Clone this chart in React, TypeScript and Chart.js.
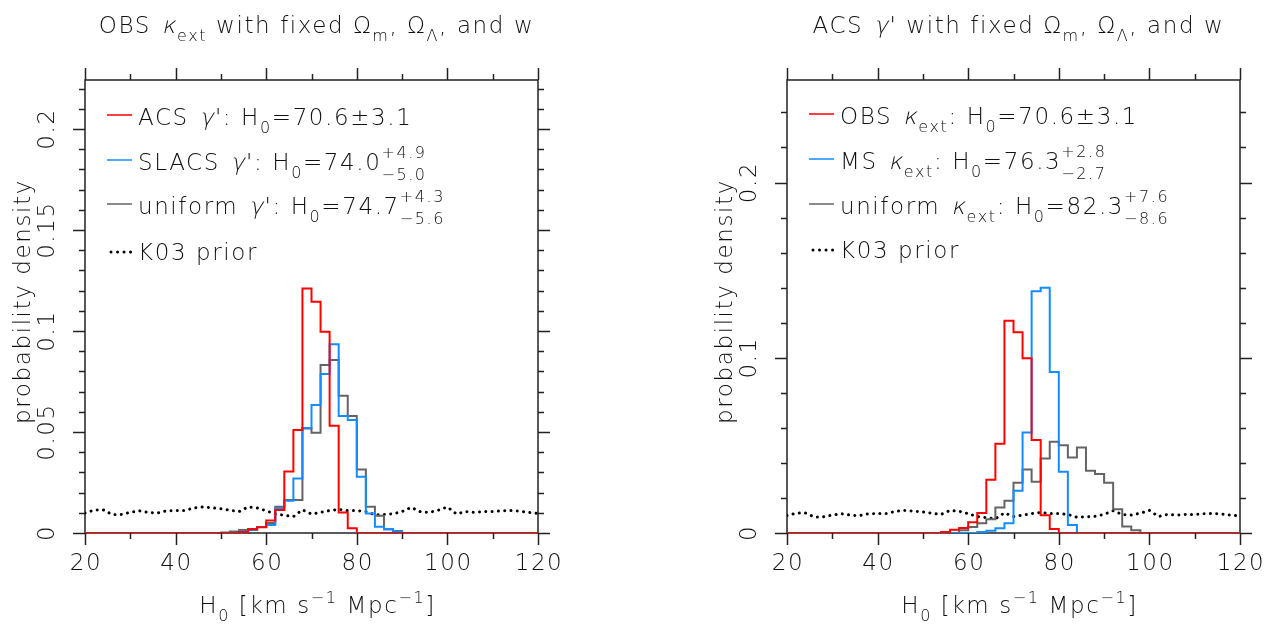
import React, { useEffect, useRef } from "react";
import { Chart, registerables } from "chart.js";
Chart.register(...registerables);

// ---------------- data ----------------
const X_MIN = 20;
const X_MAX = 120;
const BIN_WIDTH = 2;

const xMajorTicks = [20, 40, 60, 80, 100, 120];
const xMinorTicks = [30, 50, 70, 90, 110];
const xTickLabels = ["20", "40", "60", "80", "100", "120"];

const leftYMax = 0.2243;
const leftYMajor = [0, 0.05, 0.1, 0.15, 0.2];
const leftYLabels = ["0", "0.05", "0.1", "0.15", "0.2"];
const leftYMinor = [0.01, 0.02, 0.03, 0.04, 0.06, 0.07, 0.08, 0.09, 0.11, 0.12, 0.13, 0.14, 0.16, 0.17, 0.18, 0.19, 0.21, 0.22];

const rightYMax = 0.2585;
const rightYMajor = [0, 0.1, 0.2];
const rightYLabels = ["0", "0.1", "0.2"];
const rightYMinor = [0.02, 0.04, 0.06, 0.08, 0.12, 0.14, 0.16, 0.18, 0.22, 0.24];

// ACS gamma' + OBS kappa_ext (red, identical in both panels), bins of width 2 starting at 54
const acsObsStart = 54;
const acsObs = [0.0005, 0.0018, 0.0028, 0.0062, 0.0114, 0.0304, 0.0510, 0.1211, 0.1145, 0.0997, 0.0531, 0.0102, 0.0023];

// SLACS gamma' (blue, left)
const slacsStart = 54;
const slacs = [0.0008, 0.0015, 0.0030, 0.0040, 0.0122, 0.0160, 0.0270, 0.0520, 0.0634, 0.0787, 0.0934, 0.0579, 0.0559, 0.0279, 0.0097, 0.0031, 0.0018, 0.0008];

// uniform gamma' (grey, left)
const uniformGammaStart = 50;
const uniformGamma = [0.0003, 0.0008, 0.0015, 0.0020, 0.0030, 0.0050, 0.0130, 0.0163, 0.0163, 0.0518, 0.0497, 0.0832, 0.0856, 0.0680, 0.0579, 0.0315, 0.0130, 0.0086, 0.0018, 0.0010];

// MS kappa_ext (blue, right)
const msKappaStart = 62;
const msKappa = [0.0005, 0.0013, 0.0027, 0.0055, 0.0241, 0.0574, 0.1380, 0.1400, 0.0919, 0.0349, 0.0046];

// uniform kappa_ext (grey, right)
const uniformKappaStart = 58;
const uniformKappa = [0.0015, 0.0034, 0.0055, 0.0078, 0.0146, 0.0184, 0.0287, 0.0363, 0.0292, 0.0425, 0.0520, 0.0501, 0.0431, 0.0488, 0.0355, 0.0336, 0.0287, 0.0135, 0.0037, 0.0016];

// K03 prior (dotted), sampled every 2 from 20 to 120
const priorStep = 2;
const k03Prior = [
  0.0099, 0.0113, 0.0115, 0.0092, 0.0092, 0.0102, 0.0110, 0.0102, 0.0099, 0.0110,
  0.0111, 0.0111, 0.0124, 0.0129, 0.0125, 0.0120, 0.0113, 0.0106, 0.0129, 0.0124,
  0.0110, 0.0094, 0.0088, 0.0081, 0.0115, 0.0094, 0.0102, 0.0111, 0.0117, 0.0111,
  0.0111, 0.0106, 0.0090, 0.0092, 0.0095, 0.0106, 0.0127, 0.0106, 0.0102, 0.0113,
  0.0129, 0.0094, 0.0106, 0.0102, 0.0106, 0.0106, 0.0110, 0.0111, 0.0108, 0.0102,
  0.0097,
];

const RED = "rgb(255,0,0)";
const BLUE = "rgb(20,140,255)";
const GREY = "rgb(100,100,100)";
const INK = "#111";
const FONT = '"DejaVu Sans", "Liberation Sans", sans-serif';
const FS = 23;
const FS_SMALL = 16;
const SPACING = "1.6px";

type Seg = { t?: string; italic?: boolean; sub?: boolean; sup?: boolean; up?: string; down?: string };

// ---------------- helpers ----------------
function histPoints(start: number, vals: number[]) {
  const pts = [{ x: X_MIN, y: 0 }];
  vals.forEach((v, i) => pts.push({ x: start + i * BIN_WIDTH, y: v }));
  pts.push({ x: start + vals.length * BIN_WIDTH, y: 0 });
  pts.push({ x: X_MAX, y: 0 });
  return pts;
}

function priorPoints() {
  return k03Prior.map((v, i) => ({ x: X_MIN + i * priorStep, y: v }));
}

function setFont(ctx: CanvasRenderingContext2D, size: number) {
  ctx.font = `200 ${size}px ${FONT}`;
  (ctx as any).letterSpacing = SPACING;
}

function segWidth(ctx: CanvasRenderingContext2D, s: Seg) {
  if (s.up !== undefined) {
    setFont(ctx, FS_SMALL);
    return Math.max(ctx.measureText(s.up).width, ctx.measureText(s.down || "").width);
  }
  setFont(ctx, s.sub || s.sup ? FS_SMALL : FS);
  return ctx.measureText(s.t || "").width + (s.italic ? 2 : 0);
}

function fillMaybeItalic(ctx: CanvasRenderingContext2D, t: string, x: number, y: number, italic: boolean) {
  if (!italic) {
    ctx.fillText(t, x, y);
    return;
  }
  ctx.save();
  ctx.translate(x + 2, y);
  ctx.transform(1, 0, -0.22, 1, 0, 0);
  ctx.fillText(t, 0, 0);
  ctx.restore();
}

function drawRich(ctx: CanvasRenderingContext2D, segs: Seg[], x: number, y: number, align: "left" | "center") {
  let total = 0;
  segs.forEach((s) => (total += segWidth(ctx, s)));
  let cx = align === "center" ? x - total / 2 : x;
  ctx.textAlign = "left";
  ctx.textBaseline = "alphabetic";
  ctx.fillStyle = INK;
  segs.forEach((s) => {
    const w = segWidth(ctx, s);
    if (s.up !== undefined) {
      setFont(ctx, FS_SMALL);
      ctx.fillText(s.up, cx, y - 12);
      ctx.fillText(s.down || "", cx, y + 10);
    } else if (s.sub) {
      setFont(ctx, FS_SMALL);
      fillMaybeItalic(ctx, s.t || "", cx, y + 8, !!s.italic);
    } else if (s.sup) {
      setFont(ctx, FS_SMALL);
      fillMaybeItalic(ctx, s.t || "", cx, y - 10, !!s.italic);
    } else {
      setFont(ctx, FS);
      fillMaybeItalic(ctx, s.t || "", cx, y, !!s.italic);
    }
    cx += w;
  });
}

type LegendItem = { color: string; dotted?: boolean; label: Seg[] };

type PanelSpec = {
  title: Seg[];
  yMax: number;
  yMajor: number[];
  yLabels: string[];
  yMinor: number[];
  legend: LegendItem[];
  legendRows: number[];
  red: { x: number; y: number }[];
  blue: { x: number; y: number }[];
  grey: { x: number; y: number }[];
  padding: { left: number; right: number; top: number; bottom: number };
};

const xTitle: Seg[] = [
  { t: "H" },
  { t: "0", sub: true },
  { t: " [km s" },
  { t: "−1", sup: true },
  { t: " Mpc" },
  { t: "−1", sup: true },
  { t: "]" },
];

const framePlugin = {
  id: "frame",
  beforeDatasetsDraw(chart: any) {
    const ctx: CanvasRenderingContext2D = chart.ctx;
    const { left, right, top, bottom } = chart.chartArea;
    const xs = chart.scales.x;
    const ys = chart.scales.y;
    const spec: PanelSpec = chart.options.plugins.frame.spec;
    ctx.save();
    ctx.strokeStyle = "#222";
    ctx.lineWidth = 1.5;
    ctx.strokeRect(left, top, right - left, bottom - top);
    ctx.beginPath();
    const MAJ = 12;
    const MIN = 6;
    xMajorTicks.forEach((v) => {
      const p = Math.round(xs.getPixelForValue(v)) + 0.5;
      ctx.moveTo(p, bottom);
      ctx.lineTo(p, bottom + MAJ);
      ctx.moveTo(p, top);
      ctx.lineTo(p, top - MAJ);
    });
    xMinorTicks.forEach((v) => {
      const p = Math.round(xs.getPixelForValue(v)) + 0.5;
      ctx.moveTo(p, bottom);
      ctx.lineTo(p, bottom + MIN);
      ctx.moveTo(p, top);
      ctx.lineTo(p, top - MIN);
    });
    spec.yMajor.forEach((v) => {
      const p = Math.round(ys.getPixelForValue(v)) + 0.5;
      ctx.moveTo(left, p);
      ctx.lineTo(left - MAJ, p);
      ctx.moveTo(right, p);
      ctx.lineTo(right + MAJ, p);
    });
    spec.yMinor.forEach((v) => {
      const p = Math.round(ys.getPixelForValue(v)) + 0.5;
      ctx.moveTo(left, p);
      ctx.lineTo(left - MIN, p);
      ctx.moveTo(right, p);
      ctx.lineTo(right + MIN, p);
    });
    ctx.stroke();
    ctx.restore();
  },
  afterDraw(chart: any) {
    const ctx: CanvasRenderingContext2D = chart.ctx;
    const { left, right, top, bottom } = chart.chartArea;
    const xs = chart.scales.x;
    const ys = chart.scales.y;
    const spec: PanelSpec = chart.options.plugins.frame.spec;
    const cxm = (left + right) / 2;
    ctx.save();
    ctx.fillStyle = INK;
    // x tick labels
    setFont(ctx, FS);
    ctx.textAlign = "center";
    ctx.textBaseline = "middle";
    xMajorTicks.forEach((v, i) => {
      ctx.fillText(xTickLabels[i], xs.getPixelForValue(v) + 1, bottom + 31);
    });
    // y tick labels (rotated)
    spec.yMajor.forEach((v, i) => {
      ctx.save();
      ctx.translate(left - 37, ys.getPixelForValue(v));
      ctx.rotate(-Math.PI / 2);
      setFont(ctx, FS);
      ctx.textAlign = "center";
      ctx.textBaseline = "middle";
      ctx.fillText(spec.yLabels[i], 0, 0);
      ctx.restore();
    });
    // y title
    ctx.save();
    ctx.translate(left - 61, (top + bottom) / 2 - 5);
    ctx.rotate(-Math.PI / 2);
    setFont(ctx, FS);
    ctx.textAlign = "center";
    ctx.textBaseline = "middle";
    ctx.fillText("probability density", 0, 0);
    ctx.restore();
    // x title
    drawRich(ctx, xTitle, cxm + 6, bottom + 80, "center");
    // title
    drawRich(ctx, spec.title, cxm + 5, 33, "center");
    // legend
    spec.legend.forEach((item, i) => {
      const by = top + spec.legendRows[i];
      const ly = by - 10;
      ctx.save();
      ctx.strokeStyle = item.color;
      if (item.dotted) {
        ctx.lineWidth = 3;
        ctx.lineCap = "round";
        ctx.setLineDash([0.01, 6.5]);
        ctx.beginPath();
        ctx.moveTo(left + 26, ly + 2);
        ctx.lineTo(left + 47, ly + 2);
        ctx.stroke();
      } else {
        ctx.lineWidth = 1.5;
        ctx.beginPath();
        ctx.moveTo(left + 22, ly);
        ctx.lineTo(left + 47, ly);
        ctx.stroke();
      }
      ctx.restore();
      drawRich(ctx, item.label, left + 53, by, "left");
    });
    ctx.restore();
  },
};

function makeConfig(spec: PanelSpec): any {
  const hist = (data: any, color: string) => ({
    data,
    borderColor: color,
    borderWidth: 2,
    stepped: "before",
    pointRadius: 0,
    fill: false,
    tension: 0,
  });
  return {
    type: "line",
    data: {
      datasets: [
        hist(spec.red, RED),
        hist(spec.blue, BLUE),
        hist(spec.grey, GREY),
        {
          data: priorPoints(),
          borderColor: "#000",
          borderWidth: 3,
          borderDash: [0.01, 6.3],
          borderCapStyle: "round",
          pointRadius: 0,
          fill: false,
          tension: 0,
        },
      ],
    },
    options: {
      animation: false,
      responsive: false,
      events: [],
      layout: { padding: spec.padding },
      plugins: {
        legend: { display: false },
        tooltip: { enabled: false },
        frame: { spec },
      },
      scales: {
        x: { type: "linear", min: X_MIN, max: X_MAX, display: false },
        y: { type: "linear", min: 0, max: spec.yMax, display: false },
      },
    },
    plugins: [framePlugin],
  };
}

const gammaP: Seg[] = [{ t: "γ", italic: true }, { t: "'" }];
const kappaExt: Seg[] = [{ t: "κ", italic: true }, { t: "ext", sub: true }];

const leftSpec: PanelSpec = {
  title: [{ t: "OBS " }, ...kappaExt, { t: " with fixed Ω" }, { t: "m", sub: true }, { t: ", Ω" }, { t: "Λ", sub: true }, { t: ", and w" }],
  yMax: leftYMax,
  yMajor: leftYMajor,
  yLabels: leftYLabels,
  yMinor: leftYMinor,
  legend: [
    { color: RED, label: [{ t: "ACS " }, ...gammaP, { t: ": H" }, { t: "0", sub: true }, { t: "=70.6±3.1" }] },
    { color: BLUE, label: [{ t: "SLACS " }, ...gammaP, { t: ": H" }, { t: "0", sub: true }, { t: "=74.0" }, { up: "+4.9", down: "−5.0" }] },
    { color: GREY, label: [{ t: "uniform " }, ...gammaP, { t: ": H" }, { t: "0", sub: true }, { t: "=74.7" }, { up: "+4.3", down: "−5.6" }] },
    { color: "#000", dotted: true, label: [{ t: "K03 prior" }] },
  ],
  legendRows: [45, 90, 134, 180],
  red: histPoints(acsObsStart, acsObs),
  blue: histPoints(slacsStart, slacs),
  grey: histPoints(uniformGammaStart, uniformGamma),
  padding: { left: 85, right: 95, top: 80, bottom: 91 },
};

const rightSpec: PanelSpec = {
  title: [{ t: "ACS " }, ...gammaP, { t: " with fixed Ω" }, { t: "m", sub: true }, { t: ", Ω" }, { t: "Λ", sub: true }, { t: ", and w" }],
  yMax: rightYMax,
  yMajor: rightYMajor,
  yLabels: rightYLabels,
  yMinor: rightYMinor,
  legend: [
    { color: RED, label: [{ t: "OBS " }, ...kappaExt, { t: ": H" }, { t: "0", sub: true }, { t: "=70.6±3.1" }] },
    { color: BLUE, label: [{ t: "MS " }, ...kappaExt, { t: ": H" }, { t: "0", sub: true }, { t: "=76.3" }, { up: "+2.8", down: "−2.7" }] },
    { color: GREY, label: [{ t: "uniform " }, ...kappaExt, { t: ": H" }, { t: "0", sub: true }, { t: "=82.3" }, { up: "+7.6", down: "−8.6" }] },
    { color: "#000", dotted: true, label: [{ t: "K03 prior" }] },
  ],
  legendRows: [44, 89, 134, 178],
  red: histPoints(acsObsStart, acsObs),
  blue: histPoints(msKappaStart, msKappa),
  grey: histPoints(uniformKappaStart, uniformKappa),
  padding: { left: 154, right: 26, top: 80, bottom: 91 },
};

function Panel({ spec }: { spec: PanelSpec }) {
  const ref = useRef<HTMLCanvasElement | null>(null);
  useEffect(() => {
    if (!ref.current) return;
    const chart = new Chart(ref.current, makeConfig(spec));
    return () => chart.destroy();
  }, [spec]);
  return <canvas ref={ref} width={633} height={624} style={{ display: "block", width: 633, height: 624 }} />;
}

export default function App() {
  return (
    <div style={{ position: "absolute", left: 0, top: 0, width: 1266, height: 624, display: "flex", background: "#fff" }}>
      <Panel spec={leftSpec} />
      <Panel spec={rightSpec} />
    </div>
  );
}
